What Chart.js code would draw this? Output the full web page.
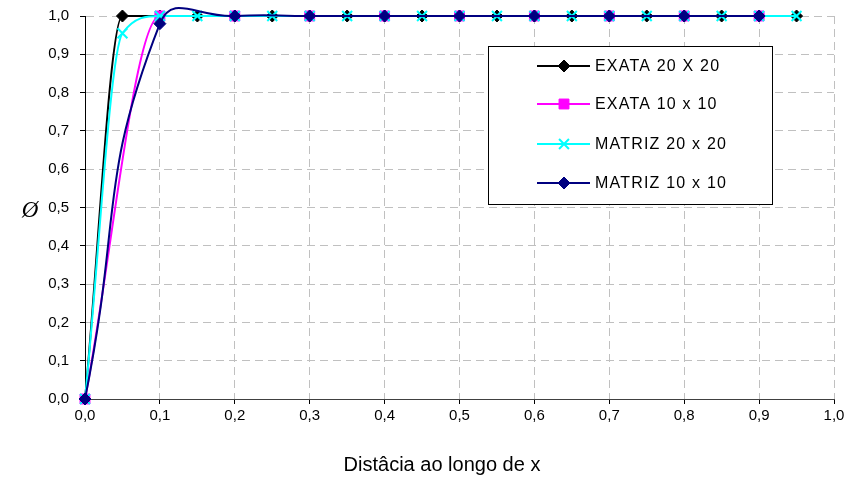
<!DOCTYPE html>
<html>
<head>
<meta charset="utf-8">
<script src="https://cdn.jsdelivr.net/npm/chart.js@4/dist/chart.umd.min.js"></script>
<style>
  html, body { margin: 0; padding: 0; background: #fff; }
  #wrap { width: 848px; height: 482px; position: relative; }
</style>
</head>
<body>
<div id="wrap"><canvas id="c" width="848" height="482"></canvas></div>
<script>
// Sample positions along x for the two meshes
const x20 = [0, 0.05, 0.1, 0.15, 0.2, 0.25, 0.3, 0.35, 0.4, 0.45, 0.5, 0.55, 0.6, 0.65, 0.7, 0.75, 0.8, 0.85, 0.9, 0.95];
const x10 = [0, 0.1, 0.2, 0.3, 0.4, 0.5, 0.6, 0.7, 0.8, 0.9];

// Ø values per series
const exata20  = [0, 1.0, 1.0, 1.0, 1.0, 1.0, 1.0, 1.0, 1.0, 1.0, 1.0, 1.0, 1.0, 1.0, 1.0, 1.0, 1.0, 1.0, 1.0, 1.0];
const exata10  = [0, 1.0, 1.0, 1.0, 1.0, 1.0, 1.0, 1.0, 1.0, 1.0];
const matriz20 = [0, 0.955, 1.0, 1.0, 1.0, 1.0, 1.0, 1.0, 1.0, 1.0, 1.0, 1.0, 1.0, 1.0, 1.0, 1.0, 1.0, 1.0, 1.0, 1.0];
const matriz10 = [0, 0.98, 1.0, 1.0, 1.0, 1.0, 1.0, 1.0, 1.0, 1.0];

const seriesNames = ['EXATA 20 X 20', 'EXATA 10 x 10', 'MATRIZ 20 x 20', 'MATRIZ 10 x 10'];
const axisTicks = [0, 0.1, 0.2, 0.3, 0.4, 0.5, 0.6, 0.7, 0.8, 0.9, 1.0];
const xTitle = 'Distâcia ao longo de x';
const yTitle = 'Ø';

const pts = (xs, ys) => xs.map((x, i) => ({ x: x, y: ys[i] }));
const fmt = v => v.toFixed(1).replace('.', ',');

const datasets = [
  { label: seriesNames[0], data: pts(x20, exata20), borderColor: '#000000', backgroundColor: '#000000',
    pointStyle: 'rectRot', pointRadius: 6, cubicInterpolationMode: 'monotone', order: 3 },
  { label: seriesNames[1], data: pts(x10, exata10), borderColor: '#ff00ff', backgroundColor: '#ff00ff',
    pointStyle: 'rect', pointRadius: 7, cubicInterpolationMode: 'monotone', order: 2 },
  { label: seriesNames[2], data: pts(x20, matriz20), borderColor: '#00ffff', backgroundColor: '#00ffff',
    pointStyle: 'crossRot', pointRadius: 7, pointBorderWidth: 2, cubicInterpolationMode: 'monotone', order: 1 },
  { label: seriesNames[3], data: pts(x10, matriz10), borderColor: '#000080', backgroundColor: '#000080',
    pointStyle: 'rectRot', pointRadius: 6, tension: 0.5, order: 0 }
];
datasets.forEach(d => {
  d.borderWidth = 2;
  d.clip = false;
  d.fill = false;
  if (d.pointBorderWidth === undefined) d.pointBorderWidth = 1;
});

// Boxed legend inside the plot and the two axis titles
const decorations = {
  id: 'decorations',
  afterDraw(chart) {
    const ctx = chart.ctx;
    ctx.save();
    // axis titles
    ctx.fillStyle = '#000';
    ctx.textAlign = 'center';
    ctx.textBaseline = 'middle';
    ctx.font = '20px "Liberation Sans", Arial, sans-serif';
    ctx.fillText(xTitle, 442, 465);
    ctx.font = 'italic 23px "Liberation Serif", "Times New Roman", serif';
    ctx.fillText(yTitle, 30, 211);

    // legend box
    const bx = 488.5, by = 46.5, bw = 284, bh = 158;
    ctx.fillStyle = '#fff';
    ctx.fillRect(bx, by, bw, bh);
    ctx.strokeStyle = '#000';
    ctx.lineWidth = 1;
    ctx.strokeRect(bx, by, bw, bh);
    const rows = [66, 104, 144, 183];
    chart.data.datasets.forEach((d, i) => {
      const y = rows[i];
      ctx.strokeStyle = d.borderColor;
      ctx.lineWidth = 2;
      ctx.beginPath();
      ctx.moveTo(537, y);
      ctx.lineTo(590, y);
      ctx.stroke();
      ctx.fillStyle = d.backgroundColor;
      ctx.strokeStyle = d.borderColor;
      ctx.lineWidth = d.pointBorderWidth;
      Chart.helpers.drawPoint(ctx, { pointStyle: d.pointStyle, radius: d.pointRadius, rotation: 0, borderWidth: d.pointBorderWidth }, 564, y);
      ctx.fillStyle = '#000';
      ctx.textAlign = 'left';
      ctx.textBaseline = 'middle';
      ctx.font = '16px "Liberation Sans", Arial, sans-serif';
      ctx.letterSpacing = '1.2px';
      ctx.fillText(d.label, 595, y + 1);
      ctx.letterSpacing = '0px';
    });
    ctx.restore();
  }
};

const gridOpts = {
  color: '#c0c0c0',
  lineWidth: 1,
  tickLength: 5,
  tickColor: '#000',
  tickBorderDash: [],
  drawOnChartArea: true
};

new Chart(document.getElementById('c'), {
  type: 'line',
  data: { datasets: datasets },
  plugins: [decorations],
  options: {
    responsive: false,
    animation: false,
    devicePixelRatio: 1,
    layout: { padding: { left: 0, right: 14, top: 16, bottom: 0 } },
    elements: { line: { capBezierPoints: false } },
    plugins: { legend: { display: false }, tooltip: { enabled: false } },
    scales: {
      x: {
        type: 'linear',
        min: 0, max: 1,
        afterBuildTicks: s => { s.ticks = axisTicks.map(v => ({ value: v })); },
        afterFit: s => { s.height = 83; s.paddingLeft = 0; s.paddingRight = 0; },
        ticks: {
          callback: v => fmt(v),
          color: '#000',
          padding: 3,
          maxRotation: 0,
          font: { family: '"Liberation Sans", Arial, sans-serif', size: 15 }
        },
        grid: gridOpts,
        border: { display: true, color: '#404040', width: 1, dash: [8, 5] }
      },
      y: {
        min: 0, max: 1,
        afterBuildTicks: s => { s.ticks = axisTicks.map(v => ({ value: v })); },
        afterFit: s => { s.width = 85; s.paddingTop = 0; s.paddingBottom = 0; },
        ticks: {
          callback: v => fmt(v),
          color: '#000',
          padding: 11,
          font: { family: '"Liberation Sans", Arial, sans-serif', size: 15 }
        },
        grid: gridOpts,
        border: { display: true, color: '#000', width: 1, dash: [8, 5] }
      }
    }
  }
});
</script>
</body>
</html>
